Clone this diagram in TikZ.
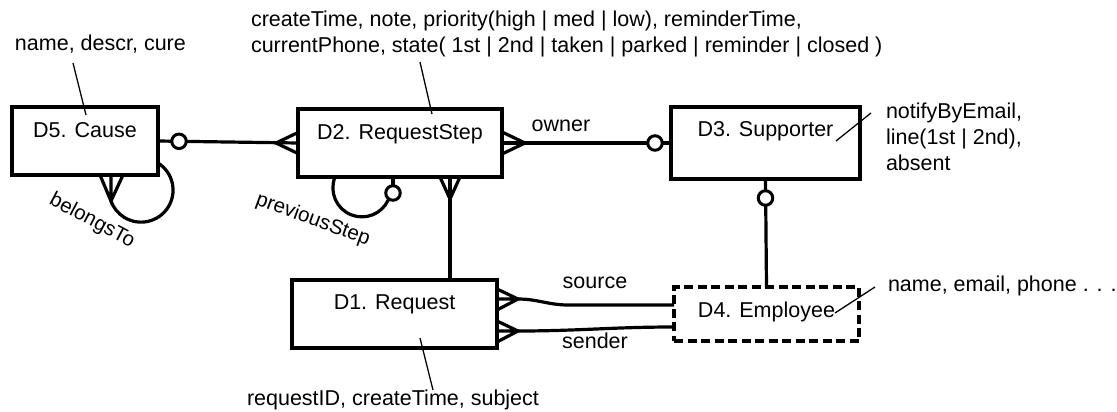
\documentclass[tikz,border=0pt]{standalone}
\usepackage{fontspec}
\setmainfont{Liberation Sans}
\usetikzlibrary{calc}
\begin{document}
\begin{tikzpicture}[x=1pt,y=-1pt,
  every node/.style={inner sep=0pt, outer sep=0pt, font=\fontsize{21.5}{26}\selectfont},
  entity/.style={draw, line width=3.6pt, fill=white},
  weakentity/.style={draw, line width=3.2pt, dash pattern=on 9pt off 4.5pt, fill=white},
  title/.style={anchor=base},
  rel/.style={line width=3.2pt},
  note/.style={anchor=base west},
  notes/.style={anchor=north west, align=left},
  pointer/.style={line width=1.3pt},
  ocirc/.style={circle, draw, fill=white, line width=3pt, minimum size=14.5pt},
  rlabel/.style={font=\fontsize{20.5}{24}\selectfont},
]
\useasboundingbox (0,0) rectangle (1117,412);

% entities
\node[entity, minimum width=146pt, minimum height=68pt] (d5) at (85,141) {};
\node[entity, minimum width=204pt, minimum height=68pt] (d2) at (400,143) {};
\node[entity, minimum width=189pt, minimum height=72pt] (d3) at (765.5,143) {};
\node[entity, minimum width=205pt, minimum height=68pt] (d1) at (394.5,314) {};
\node[weakentity, minimum width=185pt, minimum height=54pt] (d4) at (766.5,314) {};

\node[title] (d5t) at ($(d5.north)+(0,30)$) {D5. Cause};
\node[title] (d2t) at ($(d2.north)+(0,30.5)$) {D2. RequestStep};
\node[title] (d3t) at ($(d3.north)+(0,29.5)$) {D3. Supporter};
\node[title] (d1t) at ($(d1.north)+(0,29.5)$) {D1. Request};
\node[title] (d4t) at ($(d4.north)+(0,30.5)$) {D4. Employee};

% D5 -- D2
\draw[rel] (d5.east) -- (d2.west);
\draw[rel] ($(d2.west)+(0,-10.5)$) -- ($(d2.west)+(-22,0)$) -- ($(d2.west)+(0,10.5)$);
\node[ocirc] (c52) at ($(d5.east)+(21,0.3)$) {};

% D2 -- D3 (owner)
\draw[rel] (d2.east) -- (d3.west);
\draw[rel] ($(d2.east)+(0,-11)$) -- ($(d2.east)+(23,0)$) -- ($(d2.east)+(0,11)$);
\node[ocirc] (c23) at ($(d3.west)+(-16,0)$) {};
\node[anchor=base] (ownerlbl) at (561,131) {owner};

% D3 -- D4
\draw[rel] (d3.south) -- (d4.north);
\node[ocirc] (c34) at ($(d3.south)+(0,19)$) {};

% D2 -- D1
\coordinate (p21) at ($(d2.south west)+(152,0)$);
\draw[rel] (p21) -- (p21 |- d1.north);
\draw[rel] ($(p21)+(-10,0)$) -- ($(p21)+(0,22)$) -- ($(p21)+(10,0)$);

% D1 -- D4 (source, sender)
\coordinate (sa) at ($(d1.east)+(21,-15)$);
\coordinate (sn) at ($(d1.east)+(21,17)$);
\draw[rel] ($(d1.east)+(0,-25)$) -- (sa) -- ($(d1.east)+(0,-4)$) (sa) -- ($(d1.east)+(0,-15)$);
\draw[rel] ($(d1.east)+(0,7)$) -- (sn) -- ($(d1.east)+(0,28)$) (sn) -- ($(d1.east)+(0,17)$);
\draw[rel] (sa) to[out=0,in=180] ($(sa)+(50,6)$) -- ($(d4.west)+(0,-9)$);
\draw[rel] (sn) to[out=0,in=180] ($(d4.west)+(0,13)$);
\node[anchor=base] (srclbl) at (595,288) {source};
\node[anchor=base] (sndlbl) at (595,348) {sender};

% D5 self relation (belongsTo)
\draw[rel] ($(d5.south east)+(0,-12)$) arc[start angle=58, end angle=-160, radius=32pt] coordinate (ba);
\draw[rel] ($(d5.south)+(15,0)$) -- (ba) -- ($(d5.south)+(38,0)$) (ba) -- ($(d5.south)+(26,0)$);
\node[rlabel, rotate=-28] (blbl) at (92,221) {belongsTo};

% D2 self relation (previousStep)
\draw[rel] ($(d2.south west)+(37,0)$) arc[start angle=158, end angle=335, radius=29pt];
\coordinate (ps) at ($(d2.south west)+(95,0)$);
\node[ocirc] (cps) at ($(ps)+(0,16)$) {};
\draw[rel] (ps) -- (cps.north);
\node[rlabel, rotate=-20] (plbl) at (313,220) {previousStep};

% attribute notes
\node[note] (a5) at (15,50.5) {name, descr, cure};
\coordinate (a5s) at (73,63); \coordinate (a5e) at (86,115);
\draw[pointer] (a5s) -- (a5e);

\node[notes] (a2) at (251,8.8) {\strut createTime, note, priority(high | med | low), reminderTime,\\currentPhone, state( 1st | 2nd | taken | parked | reminder | closed )};
\coordinate (a2s) at (420,62); \coordinate (a2e) at (432,114);
\draw[pointer] (a2s) -- (a2e);

\node[notes] (a3) at (886,99.8) {\strut notifyByEmail,\\line(1st | 2nd),\\absent};
\coordinate (a3s) at (871,113); \coordinate (a3e) at (836,141);
\draw[pointer] (a3s) -- (a3e);

\node[note] (a4) at (888,291) {name, email, phone . . .};
\coordinate (a4s) at (875,287); \coordinate (a4e) at (835,313);
\draw[pointer] (a4s) -- (a4e);

\node[note] (a1) at (247,405) {requestID, createTime, subject};
\coordinate (a1s) at (420,338); \coordinate (a1e) at (433,390);
\draw[pointer] (a1s) -- (a1e);
\end{tikzpicture}
\end{document}
